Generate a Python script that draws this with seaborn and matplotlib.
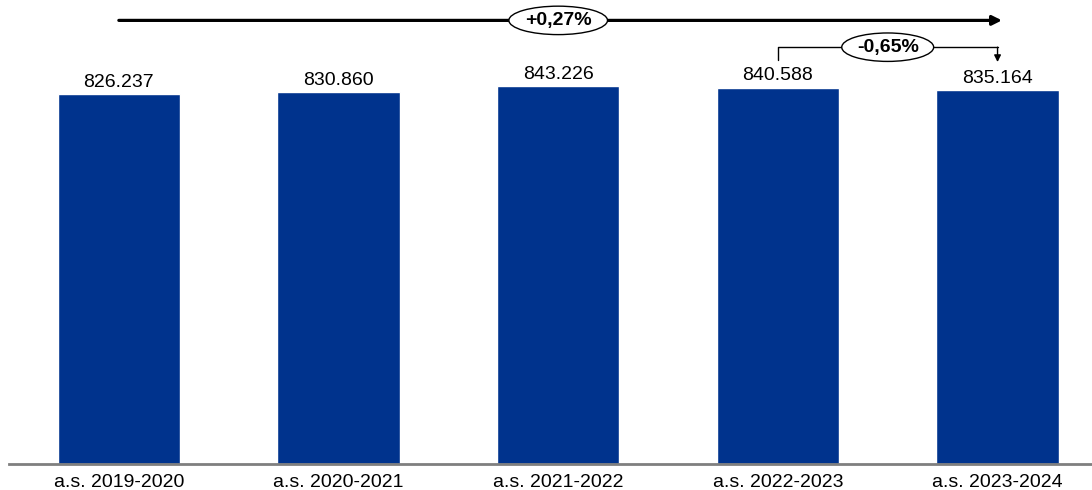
import matplotlib

matplotlib.use("Agg")
import matplotlib.pyplot as plt
import numpy as np
import pandas as pd
import seaborn as sns

years = ["a.s. 2019-2020", "a.s. 2020-2021", "a.s. 2021-2022", "a.s. 2022-2023", "a.s. 2023-2024"]
students = [826237, 830860, 843226, 840588, 835164]
total_change = "+0,27%"
last_change = "-0,65%"

BAR_COLOR = "#00338D"

sns.set_style("white")
plt.rcParams["font.family"] = ["Liberation Sans", "DejaVu Sans"]
plt.rcParams["text.color"] = "black"
plt.rcParams["xtick.color"] = "black"

df = pd.DataFrame({"year": years, "students": students})

fig = plt.figure(figsize=(10.92, 4.9), dpi=100)
ax = fig.add_axes([9 / 1092, 26 / 490, 1 - 9 / 1092, 464 / 490])

sns.barplot(data=df, x="year", y="students", color=BAR_COLOR, saturation=1,
            width=0.556, ax=ax)

top = max(students)
ax.set_xlim(-0.5, 4.43)
ax.set_ylim(0, top * 1.229)

# etichette valori
for i, v in enumerate(students):
    ax.annotate(f"{v:,}".replace(",", "."), (i, v), xytext=(0, 2.5),
                textcoords="offset points", ha="center", va="bottom", fontsize=14)

# freccia lunga (variazione totale)
y_long = top * 1.175
ax.annotate("", xy=(4.02, y_long), xytext=(0, y_long),
            arrowprops=dict(arrowstyle="-|>", color="black", lw=2.3,
                            mutation_scale=14, shrinkA=0, shrinkB=0))
ax.text(2, y_long, total_change, ha="center", va="center", fontsize=14, fontweight="bold",
        bbox=dict(boxstyle="ellipse,pad=0.08", fc="white", ec="black", lw=1))

# parentesi ultimo anno
y_br = top * 1.104
n = len(students)
ax.plot([n - 2, n - 2, n - 1], [students[-2] * 1.073, y_br, y_br], color="black", lw=1)
ax.annotate("", xy=(n - 1, students[-1] * 1.075), xytext=(n - 1, y_br),
            arrowprops=dict(arrowstyle="-|>", color="black", lw=1,
                            mutation_scale=10, shrinkA=0, shrinkB=0))
ax.text(n - 1.5, y_br, last_change, ha="center", va="center", fontsize=14, fontweight="bold",
        bbox=dict(boxstyle="ellipse,pad=0.08", fc="white", ec="black", lw=1))

sns.despine(ax=ax, left=True)
ax.spines["bottom"].set_color("#7f7f7f")
ax.spines["bottom"].set_linewidth(2)
ax.set_xlabel("")
ax.set_ylabel("")
ax.set_yticks([])
ax.tick_params(axis="x", length=0, pad=7, labelsize=14)

fig.savefig("out.png", dpi=100)
